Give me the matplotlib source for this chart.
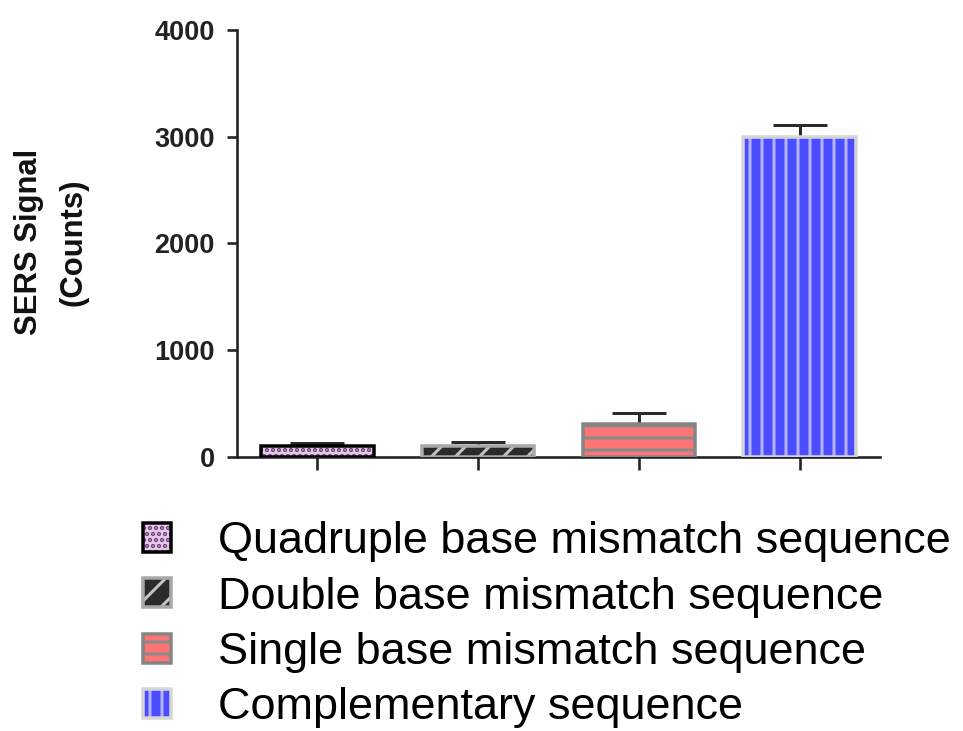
import numpy as np
import matplotlib
matplotlib.use('Agg')
import matplotlib.pyplot as plt
import matplotlib.patches as mpatches
from matplotlib.legend_handler import HandlerTuple

# --- DATA ---
labels = ['Quadruple base mismatch sequence',
          'Double base mismatch sequence',
          'Single base mismatch sequence',
          'Complementary sequence']
values = [105, 100, 310, 3000]
errors = [30, 40, 100, 110]
yticks = [0, 1000, 2000, 3000, 4000]

# --- STYLE ---
fills   = ['#e8c6f0', '#2b2b2b', '#ff7474', '#4b4bff']
hatches = ['..', '/', '-', '|']
hatch_c = ['#6a4a70', '#c4c4c4', '#8a8a8a', '#b4b4ff']
edges   = ['#000000', '#a8a8a8', '#858585', '#d6d6d6']

# dpi 72 -> 1 pt == 1 px, hatch spacing ~12 px like the original
DPI = 72
plt.rcParams['font.family'] = ['Liberation Sans', 'DejaVu Sans']
plt.rcParams['hatch.linewidth'] = 3.0

fig = plt.figure(figsize=(963 / DPI, 731 / DPI), dpi=DPI)
ax = fig.add_axes([0.2461, 0.3748, 0.6677, 0.5842])

x = np.arange(len(values))
w = 0.7
handles = []
for i in range(len(values)):
    # hatch layer (hatch colour comes from edgecolor)
    ax.bar(x[i], values[i], w, color=fills[i], hatch=hatches[i],
           edgecolor=hatch_c[i], linewidth=0, zorder=2)
    # outline layer
    ax.bar(x[i], values[i], w, fill=False, edgecolor=edges[i],
           linewidth=3.5, zorder=3)
    ax.errorbar(x[i], values[i], yerr=[[0], [errors[i]]], fmt='none',
                ecolor='#2a2a2a', elinewidth=3, capsize=27, capthick=3,
                zorder=1)
    h1 = mpatches.Patch(facecolor=fills[i], hatch=hatches[i],
                        edgecolor=hatch_c[i], linewidth=0)
    h2 = mpatches.Patch(fill=False, edgecolor=edges[i], linewidth=3.5)
    handles.append((h1, h2))

ax.set_xlim(-0.5, 3.5)
ax.set_ylim(0, 4000)
ax.set_yticks(yticks)
ax.set_xticks(x)
ax.set_xticklabels([])
for s in ['top', 'right']:
    ax.spines[s].set_visible(False)
for s in ['left', 'bottom']:
    ax.spines[s].set_linewidth(2.6)
    ax.spines[s].set_color('#222222')
ax.tick_params(axis='y', length=10, width=2.6, labelsize=27, pad=12,
               colors='#222222')
ax.tick_params(axis='x', length=13, width=2.6, colors='#222222')
for t in ax.get_yticklabels():
    t.set_fontweight('bold')

fig.text(0.053, 0.669, 'SERS Signal\n(Counts)', rotation=90, fontsize=31,
         fontweight='bold', ha='center', va='center', multialignment='center',
         linespacing=1.65, color='#111111')

fig.legend(handles, labels, loc='upper left', bbox_to_anchor=(0.1485, 0.287),
           frameon=False, fontsize=45, handlelength=0.62, handleheight=0.62,
           handletextpad=1.05, labelspacing=0.32, borderpad=0, borderaxespad=0,
           handler_map={tuple: HandlerTuple(ndivide=1, pad=0)})

fig.savefig('out.png', dpi=DPI)
